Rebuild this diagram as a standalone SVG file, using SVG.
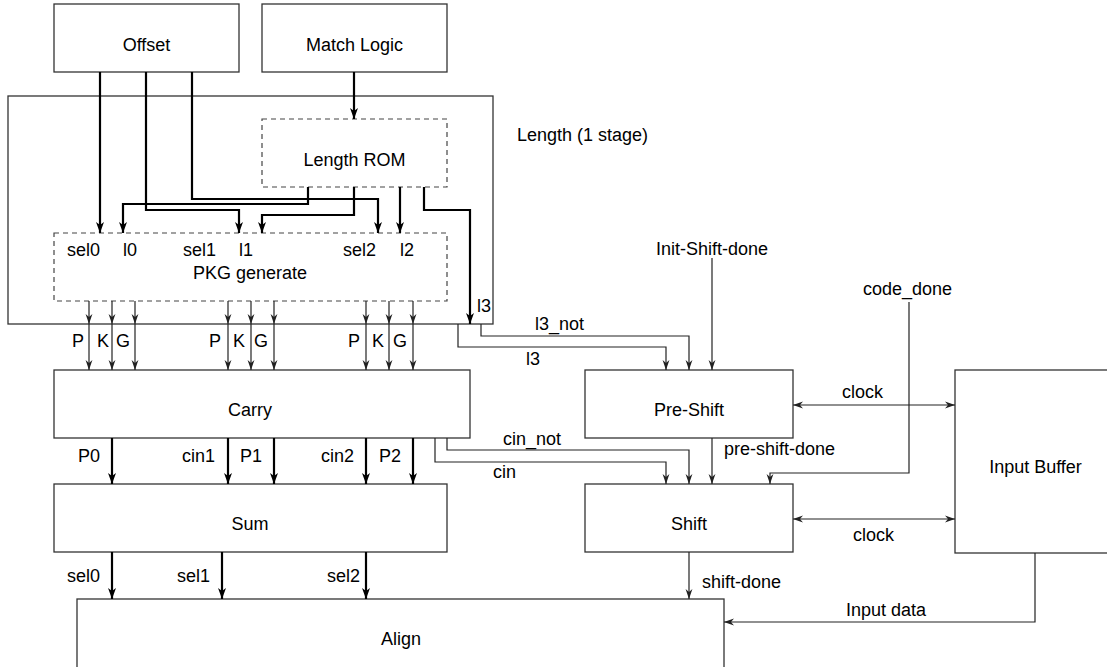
<svg xmlns="http://www.w3.org/2000/svg" width="1107" height="667" viewBox="0 0 1107 667">
<style>
text{font-family:"Liberation Sans",Arial,Helvetica,sans-serif;font-size:18px;fill:#000}
.c{text-anchor:middle}
.box{fill:none;stroke:#333;stroke-width:1.3}
.dash{fill:none;stroke:#444;stroke-width:1.2;stroke-dasharray:5,4}
.thin{fill:none;stroke:#222;stroke-width:1.2;marker-end:url(#ah)}
.thick{fill:none;stroke:#000;stroke-width:2.2;marker-end:url(#ahb)}
.dbl{fill:none;stroke:#222;stroke-width:1.2;marker-end:url(#ah);marker-start:url(#ahs)}
</style>
<defs>
<marker id="ah" markerUnits="userSpaceOnUse" markerWidth="10" markerHeight="8" refX="10" refY="4" orient="auto"><path d="M0,0.6 L10,4 L0,7.4 L3,4 Z" fill="#222"/></marker>
<marker id="ahs" markerUnits="userSpaceOnUse" markerWidth="10" markerHeight="8" refX="10" refY="4" orient="auto-start-reverse"><path d="M0,0.6 L10,4 L0,7.4 L3,4 Z" fill="#222"/></marker>
<marker id="ahb" markerUnits="userSpaceOnUse" markerWidth="11" markerHeight="9" refX="11" refY="4.5" orient="auto"><path d="M0,0.5 L11,4.5 L0,8.5 L3,4.5 Z" fill="#000"/></marker>
</defs>
<g id="length">
<rect class="box" x="8" y="96" width="485" height="228"/>
<text x="517" y="141">Length (1 stage)</text>
</g>
<g id="offset"><rect class="box" x="54" y="4" width="185" height="68"/><text class="c" x="146.5" y="50.5">Offset</text></g>
<g id="match-logic"><rect class="box" x="262" y="4" width="185" height="68"/><text class="c" x="354.5" y="50.5">Match Logic</text></g>
<g id="length-rom"><rect class="dash" x="262" y="119" width="185" height="68"/><text class="c" x="354.5" y="165.5">Length ROM</text></g>
<g id="pkg">
<rect class="dash" x="54" y="233" width="393" height="68"/>
<text x="67" y="256">sel0</text><text x="123" y="256">l0</text>
<text x="183" y="256">sel1</text><text x="239" y="256">l1</text>
<text x="343" y="256">sel2</text><text x="400" y="256">l2</text>
<text class="c" x="250" y="279">PKG generate</text>
</g>
<g id="carry"><rect class="box" x="54" y="370" width="416" height="68"/><text class="c" x="250" y="416">Carry</text></g>
<g id="sum"><rect class="box" x="54" y="484" width="393" height="68"/><text class="c" x="250" y="530">Sum</text></g>
<g id="align"><rect class="box" x="77" y="599" width="647" height="90"/><text class="c" x="401" y="645">Align</text></g>
<g id="pre-shift"><rect class="box" x="585" y="370" width="208" height="68"/><text class="c" x="689" y="416">Pre-Shift</text></g>
<g id="shift"><rect class="box" x="585" y="484" width="208" height="68"/><text class="c" x="689" y="530">Shift</text></g>
<g id="input-buffer"><rect class="box" x="955" y="370" width="170" height="183"/><text class="c" x="1035.5" y="473">Input Buffer</text></g>
<g id="connectors">
<path class="thick" d="M354,72 V119"/>
<path class="thick" d="M100,72 V233"/>
<path class="thick" d="M146,72 V210 H239 V233"/>
<path class="thick" d="M192,72 V199 H378 V233"/>
<path class="thick" d="M308,187 V204 H123 V233"/>
<path class="thick" d="M354,187 V215 H262 V233"/>
<path class="thick" d="M400,187 V233"/>
<path class="thick" d="M424,187 V210 H470 V324"/>
<text x="477" y="312">l3</text>
<path class="thin" d="M89,301 V324"/><path class="thin" d="M89,324 V370"/>
<path class="thin" d="M112,301 V324"/><path class="thin" d="M112,324 V370"/>
<path class="thin" d="M135,301 V324"/><path class="thin" d="M135,324 V370"/>
<path class="thin" d="M228,301 V324"/><path class="thin" d="M228,324 V370"/>
<path class="thin" d="M251,301 V324"/><path class="thin" d="M251,324 V370"/>
<path class="thin" d="M274,301 V324"/><path class="thin" d="M274,324 V370"/>
<path class="thin" d="M366,301 V324"/><path class="thin" d="M366,324 V370"/>
<path class="thin" d="M389,301 V324"/><path class="thin" d="M389,324 V370"/>
<path class="thin" d="M413,301 V324"/><path class="thin" d="M413,324 V370"/>
<text x="72" y="347">P</text><text x="97" y="347">K</text><text x="116" y="347">G</text>
<text x="209" y="347">P</text><text x="233" y="347">K</text><text x="254" y="347">G</text>
<text x="348" y="347">P</text><text x="372" y="347">K</text><text x="393" y="347">G</text>
<path class="thick" d="M112,438 V484"/>
<path class="thick" d="M228,438 V484"/>
<path class="thick" d="M274,438 V484"/>
<path class="thick" d="M366,438 V484"/>
<path class="thick" d="M413,438 V484"/>
<text x="78" y="462">P0</text><text x="182" y="462">cin1</text><text x="240" y="462">P1</text>
<text x="321" y="462">cin2</text><text x="379" y="462">P2</text>
<path class="thick" d="M112,552 V599"/>
<path class="thick" d="M222,552 V599"/>
<path class="thick" d="M366,552 V599"/>
<text x="67" y="582">sel0</text><text x="177" y="582">sel1</text><text x="327" y="582">sel2</text>
<path class="thin" d="M481,324 V336 H689 V370"/>
<text x="535" y="330">l3_not</text>
<path class="thin" d="M458,324 V347 H666 V370"/>
<text x="526" y="365">l3</text>
<path class="thin" d="M712,258 V370"/>
<text class="c" x="712" y="255">Init-Shift-done</text>
<path class="thin" d="M447,438 V450 H689 V484"/>
<text x="503" y="445">cin_not</text>
<path class="thin" d="M435,438 V462 H666 V484"/>
<text x="493" y="478">cin</text>
<path class="thin" d="M712,438 V484"/>
<text x="724" y="455">pre-shift-done</text>
<path class="thin" d="M909,302 V473 H770 V484"/>
<text x="863" y="295">code_done</text>
<path class="dbl" d="M793,405 H955"/>
<text x="842" y="398">clock</text>
<path class="dbl" d="M793,519 H955"/>
<text x="853" y="541">clock</text>
<path class="thin" d="M689,552 V599"/>
<text x="702" y="588">shift-done</text>
<path class="thin" d="M1035,553 V622 H724"/>
<text x="846" y="616">Input data</text>
</g>
</svg>
